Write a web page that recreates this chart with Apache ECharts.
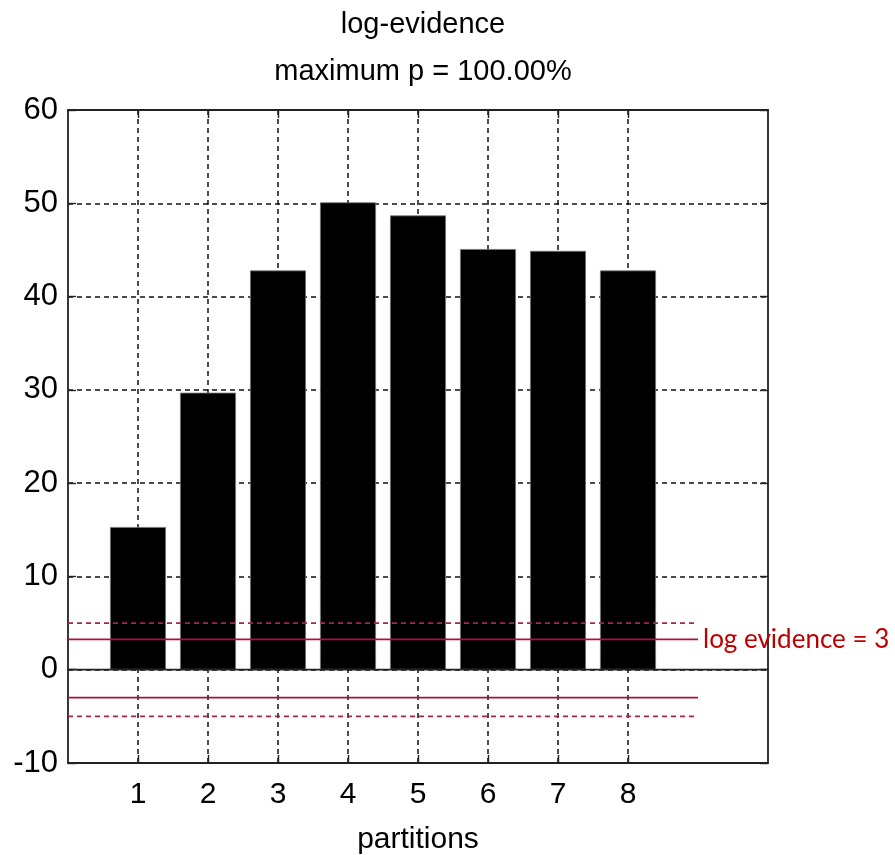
<!DOCTYPE html>
<html>
<head>
<meta charset="utf-8">
<script src="https://cdn.jsdelivr.net/npm/echarts@6/dist/echarts.min.js"></script>
<style>html,body{margin:0;padding:0;background:#fff;}#chart{width:895px;height:855px;}</style>
</head>
<body>
<div id="chart"></div>
<script>
// ---- data ----
const categories = ['', '1', '2', '3', '4', '5', '6', '7', '8', '', ''];
const partitions = [1, 2, 3, 4, 5, 6, 7, 8];
const logEvidence = [15.3, 29.7, 42.8, 50.1, 48.7, 45.1, 44.9, 42.8];
const yTicks = [-10, 0, 10, 20, 30, 40, 50, 60];
const thresholdSolidUpper = 3.25;
const thresholdSolidLower = -3;
const thresholdDashed = [5, -5];
const thresholdExtent = [0, 9];
const xExtent = [0, 10];
const titleLines = ['log-evidence', 'maximum p = 100.00%'];
const thresholdLabel = 'log evidence = 3';
const xName = 'partitions';

// ---- build ----
const barData = categories.map(c => '-');
partitions.forEach((p, i) => { barData[p] = logEvidence[i]; });
const seg = v => [[thresholdExtent[0], v], [thresholdExtent[1], v]];
const showCat = (idx, val) => val !== '';

const FONT = 'Liberation Sans, Arial, sans-serif';
const gridDash = { color: '#111', width: 1.5, type: [5, 4] };

const chart = echarts.init(document.getElementById('chart'), null, { renderer: 'canvas' });
chart.setOption({
  animation: false,
  backgroundColor: '#fff',
  title: {
    text: titleLines.join('\n'),
    left: 418, textAlign: 'center', top: -4,
    textStyle: { fontFamily: FONT, fontSize: 29, fontWeight: 'normal', color: '#000', lineHeight: 47 }
  },
  grid: { left: 68, right: 127, top: 110, bottom: 92, containLabel: false, outerBoundsMode: 'none' },
  xAxis: [
    {
      type: 'category', data: categories, boundaryGap: false, position: 'bottom',
      axisLine: { onZero: false, lineStyle: { color: '#222', width: 1.8 } },
      axisTick: { inside: true, length: 8, interval: showCat, lineStyle: { color: '#222', width: 1.4 } },
      axisLabel: { interval: showCat, fontFamily: FONT, fontSize: 30, color: '#000', margin: 17 },
      splitLine: { show: true, interval: showCat, lineStyle: gridDash },
      name: xName, nameLocation: 'middle', nameGap: 62,
      nameTextStyle: { fontFamily: FONT, fontSize: 30, color: '#000' }
    },
    {
      type: 'category', data: categories, boundaryGap: false, position: 'top',
      axisLine: { onZero: false, lineStyle: { color: '#222', width: 1.8 } },
      axisTick: { inside: true, length: 8, interval: showCat, lineStyle: { color: '#222', width: 1.4 } },
      axisLabel: { show: false }, splitLine: { show: false }
    },
    { type: 'value', min: xExtent[0], max: xExtent[1], show: false }
  ],
  yAxis: [
    {
      type: 'value', min: yTicks[0], max: yTicks[yTicks.length - 1], interval: 10, position: 'left',
      axisLine: { show: true, onZero: false, lineStyle: { color: '#222', width: 1.8 } },
      axisTick: { show: true, inside: true, length: 8, lineStyle: { color: '#222', width: 1.4 } },
      axisLabel: { fontFamily: FONT, fontSize: 31, color: '#000', margin: 10 },
      splitLine: { show: true, lineStyle: gridDash }
    },
    {
      type: 'value', min: yTicks[0], max: yTicks[yTicks.length - 1], interval: 10, position: 'right',
      axisLine: { show: true, onZero: false, lineStyle: { color: '#222', width: 1.8 } },
      axisTick: { show: true, inside: true, length: 8, lineStyle: { color: '#222', width: 1.4 } },
      axisLabel: { show: false }, splitLine: { show: false }
    }
  ],
  series: [
    {
      type: 'bar', xAxisIndex: 0, yAxisIndex: 0, data: barData, barWidth: 56,
      itemStyle: { color: '#000', borderColor: '#777', borderWidth: 0.8 }, silent: true
    },
    {
      type: 'line', xAxisIndex: 2, yAxisIndex: 0, data: [[xExtent[0], 0], [xExtent[1], 0]],
      symbol: 'none', silent: true, lineStyle: { color: '#222', width: 1.8 }
    },
    {
      type: 'line', xAxisIndex: 2, yAxisIndex: 0, data: seg(thresholdSolidUpper),
      symbol: 'none', silent: true, lineStyle: { color: '#a8123c', width: 1.8 },
      endLabel: { show: true, formatter: thresholdLabel, distance: 5, color: '#c00000',
        fontFamily: 'Lato, sans-serif', fontSize: 26 }
    },
    {
      type: 'line', xAxisIndex: 2, yAxisIndex: 0, data: seg(thresholdSolidLower),
      symbol: 'none', silent: true, lineStyle: { color: '#a8123c', width: 1.8 }
    },
    ...thresholdDashed.map(v => ({
      type: 'line', xAxisIndex: 2, yAxisIndex: 0, data: seg(v),
      symbol: 'none', silent: true, lineStyle: { color: '#a8244c', width: 1.8, type: [5, 4] }
    }))
  ]
});
</script>
</body>
</html>
